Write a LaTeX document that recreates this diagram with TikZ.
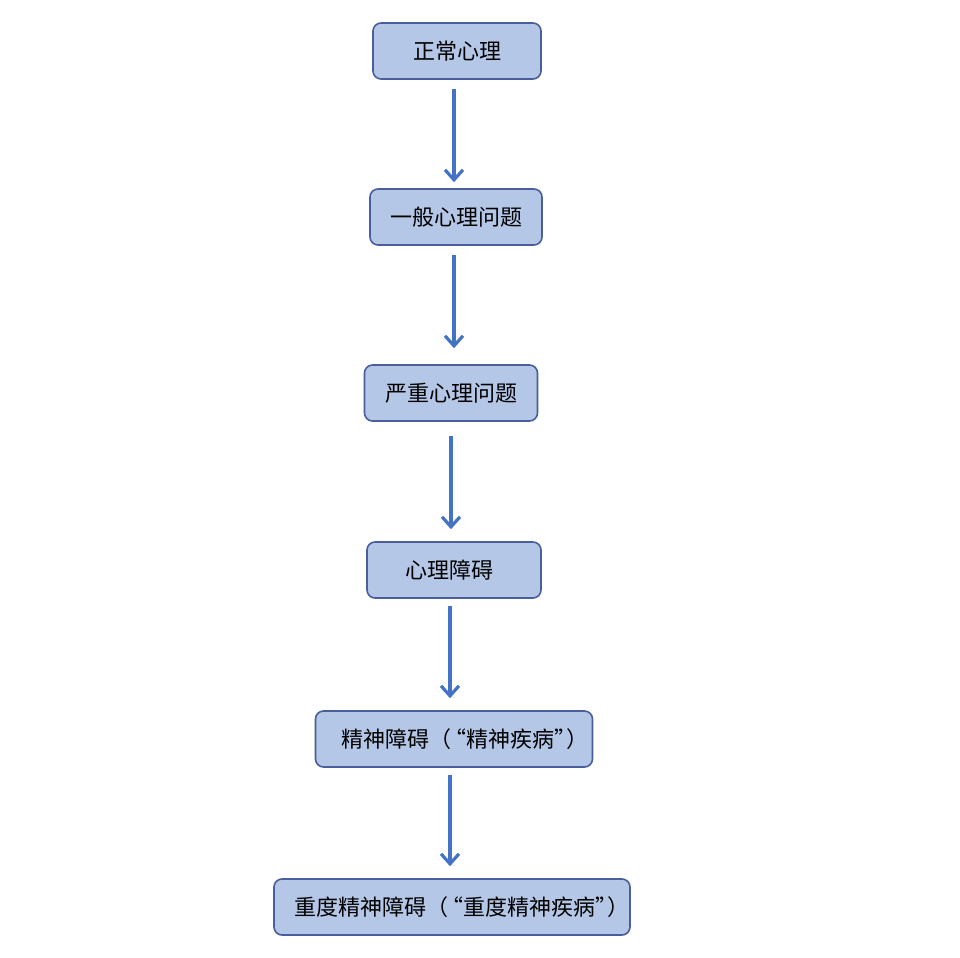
\documentclass[tikz,border=0pt]{standalone}
\usepackage{fontspec}
\setmainfont{Noto Sans CJK SC}
\usetikzlibrary{positioning, arrows.meta}

\definecolor{boxfill}{HTML}{B4C7E7}
\definecolor{boxline}{HTML}{4A5E9C}
\definecolor{arrowblue}{HTML}{4472C4}

% narrower quotes inside full-width brackets
\newcommand{\quotedname}[1]{（\kern-0.35em“#1”\kern-0.45em）\kern-0.5em}

\begin{document}
\begin{tikzpicture}[x=0.5pt, y=-0.5pt,
    stage/.style={draw=boxline, fill=boxfill, rounded corners=4pt, line width=0.8pt,
          font=\fontsize{11}{13}\selectfont, minimum height=28pt, inner sep=0pt, align=center},
    flow/.style={draw=arrowblue, line width=1.6pt, -{Straight Barb[length=5pt, width=9pt, line width=1.6pt]}}]
    \useasboundingbox (0,0) rectangle (960,958);

    \node[stage, minimum width=84pt]  (normal)   at (457, 51)  {正常心理};
    \node[stage, minimum width=86pt]  (general)  at (456, 217) {一般心理问题};
    \node[stage, minimum width=86.5pt] (serious) at (451, 393) {严重心理问题};
    \node[stage, minimum width=87pt]  (disorder) at (454, 570) {\kern-0.4em心理障碍};
    \node[stage, minimum width=138.5pt] (mental) at (454, 739) {\kern0.5em精神障碍\quotedname{精神疾病}};
    \node[stage, minimum width=178pt] (severe)   at (452, 907) {\kern0.4em重度精神障碍\quotedname{重度精神疾病}};

    \draw[flow] ([yshift=-4.5pt]normal.south -| 454,0)   -- ([yshift=3pt]general.north -| 454,0);
    \draw[flow] ([yshift=-4.5pt]general.south -| 454,0)  -- ([yshift=8pt]serious.north -| 454,0);
    \draw[flow] ([yshift=-7pt]serious.south -| 451,0)    -- ([yshift=6pt]disorder.north -| 451,0);
    \draw[flow] ([yshift=-3.5pt]disorder.south -| 450,0) -- ([yshift=6pt]mental.north -| 450,0);
    \draw[flow] ([yshift=-3.5pt]mental.south -| 450,0)   -- ([yshift=6pt]severe.north -| 450,0);
\end{tikzpicture}
\end{document}
